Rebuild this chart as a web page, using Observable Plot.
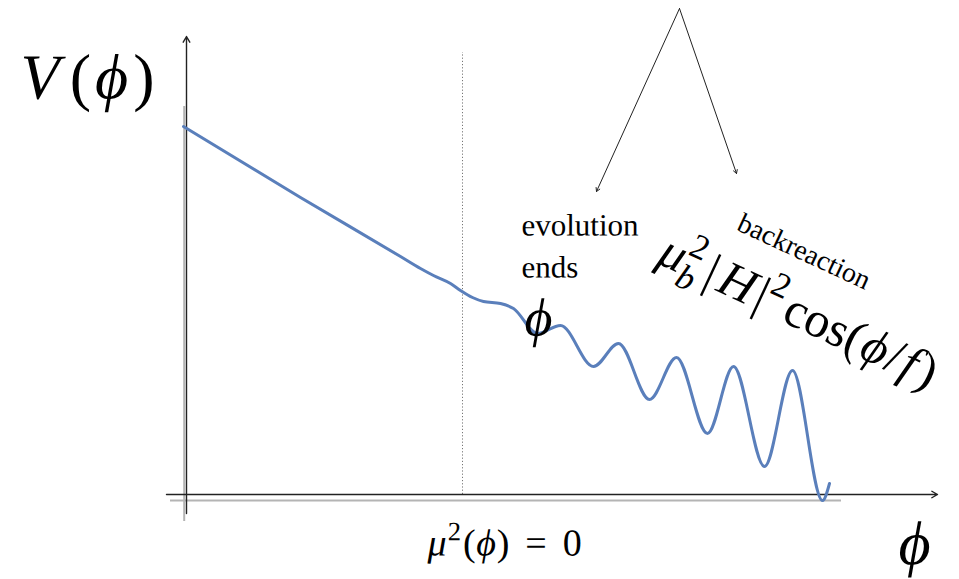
<!DOCTYPE html>
<html><head><meta charset="utf-8">
<script src="https://cdn.jsdelivr.net/npm/d3@7"></script>
<script src="https://cdn.jsdelivr.net/npm/@observablehq/plot@0.6"></script>
<style>
html,body{margin:0;padding:0;background:#fff;overflow:hidden}
.ser text,.ser tspan{font-family:"Liberation Serif" !important}
</style>
</head><body><div id="chart"></div>
<script>
// V(ϕ) curve (ϕ and V in arbitrary units)
const phi = [-0.3, 11.4, 21.4, 23.4, 24.7, 26.4, 27.4, 28.6, 29.7, 31.4, 32.7, 35.1, 37.4, 40.7, 43.2, 46.3, 49.0, 52.1, 54.7, 57.8, 60.6, 63.6, 64.3];
const V   = [36.8, 29.7, 23.8, 22.6, 21.9, 21.1, 20.4, 19.7, 19.3, 19.1, 18.6, 16.1, 16.9, 12.8, 15.1, 9.5, 13.7, 6.1, 12.8, 2.8, 12.4, -0.6, 1.1];

// where μ²(ϕ)=0
const muZero = [27.6];
const muZeroTop = 44.2;

// axes (with arrowheads) and their grey shadows
const axisArrows = [
  {x1: 0, y1: -1.9, x2: 0, y2: 45.8},
  {x1: -2, y1: 0, x2: 75.1, y2: 0}
];
const shadowV = [{x: -0.23, y1: -2.7, y2: 38.8}];
const shadowH = [{y: -0.6, x1: -1.6, x2: 65.5}];

// pointer arrows from the top
const pointers = [
  {x1: 49.3, y1: 48.6, x2: 41.0, y2: 30.3},
  {x1: 49.3, y1: 48.6, x2: 55.0, y2: 32.1}
];

// labels
const labels = [
  {key: "V(ϕ)", x: -16.6, y: 39.6},
  {key: "evolution", x: 33.5, y: 25.9},
  {key: "ends", x: 33.5, y: 21.7},
  {key: "ϕ", x: 35.2, y: 17.6},
  {key: "backreaction", x: 54.9, y: 26.5},
  {key: "μb2|H|2cos(ϕ/f)", x: 46.9, y: 23.2},
  {key: "μ2(ϕ)=0", x: 24.1, y: -6.1},
  {key: "ϕ ", x: 72.8, y: -5.0}
];

const curve = phi.map((p, i) => ({phi: p, V: V[i]}));
const lab = k => labels.filter(d => d.key === k);
const FONT = "Liberation Serif";
const BASE = 20;

const richSegs = {
  "V(ϕ)": [{t: "V", i: 1}, {t: "(", dx: 0.16}, {t: "ϕ", i: 1, dx: 0.06}, {t: ")", dx: 0.08}],
  "μ2(ϕ)=0": [{t: "μ", i: 1}, {t: "2", s: 0.7, dy: -0.4, dx: 0.03}, {t: "(", dx: 0.05}, {t: "ϕ", i: 1, dx: 0.02}, {t: ")", dx: 0.02}, {t: "=", dx: 0.42}, {t: "0", dx: 0.42}],
  "μb2|H|2cos(ϕ/f)": [{t: "μ", i: 1}, {t: "b", i: 1, s: 0.7, dy: 0.25}, {t: "2", s: 0.7, dy: -0.42, dx: -0.35}, {t: "|", dx: 0.15}, {t: "H", i: 1, dx: 0.1}, {t: "|", dx: 0.08}, {t: "2", s: 0.7, dy: -0.42}, {t: "cos(", dx: 0.1}, {t: "ϕ", i: 1, dx: 0.03}, {t: "/", dx: 0.03}, {t: "f", i: 1, dx: 0.05}, {t: ")", dx: 0.08}],
  "ϕ ": [{t: "ϕ", i: 1}]
};
const sizes = {"V(ϕ)": 64, "evolution": 31, "ends": 31, "ϕ": 54, "backreaction": 28, "μb2|H|2cos(ϕ/f)": 50, "μ2(ϕ)=0": 38, "ϕ ": 62};

const txt = (k, o) => Plot.text(lab(k), {x: "x", y: "y", text: "key", fontSize: BASE, fontFamily: FONT, textAnchor: "start", lineAnchor: "bottom", fill: "black", rotate: 0.05, ...o});

const chart = Plot.plot({
  width: 959, height: 579, margin: 0,
  x: {domain: [-18.6, 77.3], range: [0, 959], axis: null},
  y: {domain: [-8.5, 49.4], range: [579, 0], axis: null},
  marks: [
    Plot.ruleX(shadowV, {x: "x", y1: "y1", y2: "y2", stroke: "#b4b4b4", strokeWidth: 2}),
    Plot.ruleY(shadowH, {y: "y", x1: "x1", x2: "x2", stroke: "#b4b4b4", strokeWidth: 2}),
    Plot.ruleX(muZero, {y1: 0, y2: muZeroTop, stroke: "#777", strokeWidth: 1, strokeDasharray: "1.2,2"}),
    Plot.arrow(axisArrows, {x1: "x1", y1: "y1", x2: "x2", y2: "y2", stroke: "#222", strokeWidth: 1.4, headLength: 7}),
    Plot.arrow(pointers, {x1: "x1", y1: "y1", x2: "x2", y2: "y2", stroke: "#222", strokeWidth: 1, headLength: 6}),
    Plot.line(curve, {x: "phi", y: "V", stroke: "#5a7fbb", strokeWidth: 3, curve: "monotone-x"}),
    txt("V(ϕ)"),
    txt("evolution"),
    txt("ends"),
    txt("ϕ", {fontStyle: "italic", textAnchor: "middle", lineAnchor: "middle"}),
    txt("backreaction", {rotate: 25}),
    txt("μb2|H|2cos(ϕ/f)", {rotate: 25}),
    txt("μ2(ϕ)=0"),
    txt("ϕ ", {textAnchor: "middle", lineAnchor: "middle"})
  ]
});
chart.classList.add("ser");

// rich text (italics, sub- and superscripts as tspans) and final sizing
const NS = "http://www.w3.org/2000/svg";
chart.querySelectorAll("text").forEach(el => {
  const key = el.textContent;
  const want = sizes[key];
  if (!want) return;
  el.setAttribute("font-family", FONT);
  el.style.fontFamily = "'Liberation Serif'";
  const segs = richSegs[key];
  if (segs) {
    el.textContent = "";
    let shift = 0;
    for (const s of segs) {
      const t = document.createElementNS(NS, "tspan");
      t.textContent = s.t;
      const target = (s.dy || 0) * BASE;
      if (target - shift) t.setAttribute("dy", target - shift);
      shift = target;
      if (s.dx) t.setAttribute("dx", s.dx * BASE);
      t.setAttribute("font-style", s.i ? "italic" : "normal");
      t.setAttribute("font-family", FONT);
      if (s.s) t.setAttribute("font-size", s.s * BASE);
      el.appendChild(t);
    }
  }
  const tr = el.getAttribute("transform") || "";
  let tx = 0, ty = 0;
  const xa = el.getAttribute("x"), ya = el.getAttribute("y");
  if (xa && !xa.endsWith("em")) { tx = +xa; el.removeAttribute("x"); }
  if (ya && !ya.endsWith("em")) { ty = +ya; el.removeAttribute("y"); }
  el.setAttribute("transform", `${tr} translate(${tx},${ty}) scale(${want / BASE})`);
});

document.getElementById("chart").appendChild(chart);
</script>
</body></html>
